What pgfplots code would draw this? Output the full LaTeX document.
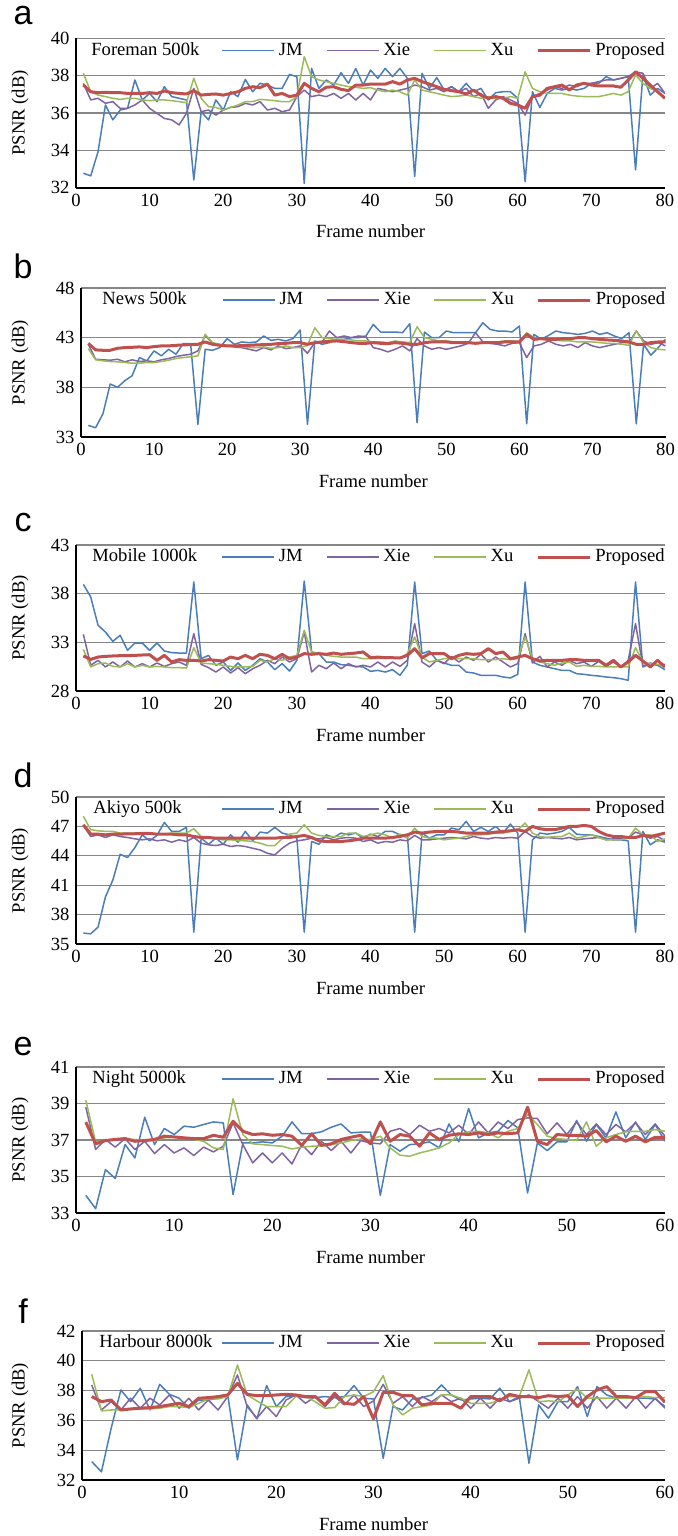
\documentclass[border=0pt]{standalone}
\usepackage{fontspec}
\setmainfont{Liberation Serif}
\setsansfont{Liberation Sans}
\usepackage{pgfplots}
\usepackage{pgfplotstable}
\pgfplotsset{compat=1.18}

\definecolor{jmblue}{HTML}{4A7EBB}
\definecolor{xiepurple}{HTML}{8064A2}
\definecolor{xugreen}{HTML}{9BBB59}
\definecolor{prored}{HTML}{C0504D}
\definecolor{gridgray}{HTML}{868686}

% frame, JM, Xie, Xu, Proposed
\pgfplotstableread{
f jm xie xu pro
1 32.77 37.59 38.13 37.50
2 32.63 36.70 37.14 37.14
3 33.93 36.79 36.96 37.09
4 36.43 36.52 36.88 37.11
5 35.63 36.61 36.79 37.09
6 36.16 36.25 36.73 37.09
7 36.25 36.25 36.79 37.05
8 37.77 36.43 36.79 37.05
9 36.70 36.70 36.70 37.05
10 37.05 36.25 36.66 37.09
11 36.61 35.98 36.70 37.05
12 37.41 35.71 36.70 37.18
13 36.88 35.63 36.66 37.09
14 36.79 35.36 36.61 37.05
15 36.70 35.98 36.55 37.02
16 32.41 37.32 37.86 37.20
17 36.07 36.07 36.79 36.96
18 35.63 36.16 36.34 37.00
19 36.70 35.89 36.30 37.02
20 36.16 36.16 36.16 36.96
21 37.14 36.30 36.30 37.05
22 36.88 36.34 36.43 37.14
23 37.80 36.52 36.61 37.32
24 37.14 36.43 36.61 37.41
25 37.59 36.61 36.73 37.36
26 37.50 36.16 36.70 37.55
27 37.32 36.25 36.66 36.96
28 37.32 36.07 36.61 37.05
29 38.07 36.16 36.61 36.88
30 37.95 36.88 36.88 36.96
31 32.23 37.23 39.02 37.59
32 38.39 36.88 37.95 37.32
33 37.32 36.96 37.77 37.14
34 37.77 36.88 37.68 37.38
35 37.50 37.05 37.59 37.41
36 38.16 36.79 37.50 37.27
37 37.59 37.05 37.41 37.20
38 38.39 36.70 37.38 37.50
39 37.50 37.05 37.32 37.50
40 38.30 36.70 37.36 37.55
41 37.86 37.32 37.23 37.55
42 38.39 37.23 37.14 37.55
43 37.95 37.14 37.23 37.68
44 38.39 37.23 37.14 37.55
45 37.86 37.32 36.96 37.77
46 32.59 37.50 37.77 37.86
47 38.13 37.41 37.23 37.68
48 37.32 37.23 37.14 37.55
49 37.90 37.32 37.05 37.41
50 37.23 37.14 36.96 37.27
51 37.41 37.41 36.88 37.20
52 37.14 37.14 36.91 37.14
53 37.59 37.32 36.96 37.02
54 37.14 36.88 36.88 37.23
55 37.32 37.05 36.79 36.96
56 36.70 36.25 36.88 36.79
57 37.09 36.70 36.79 36.88
58 37.14 36.88 36.79 36.79
59 37.14 36.70 36.88 36.52
60 36.79 36.52 36.79 36.43
61 32.32 35.89 38.21 36.25
62 37.14 36.88 37.32 36.88
63 36.30 37.05 37.14 36.96
64 37.05 37.23 37.05 37.32
65 37.32 37.41 37.05 37.41
66 37.23 37.32 37.05 37.50
67 37.32 37.50 36.96 37.23
68 37.23 37.41 36.91 37.50
69 37.32 37.59 36.88 37.59
70 37.59 37.59 36.88 37.50
71 37.59 37.68 36.88 37.45
72 37.95 37.77 36.96 37.45
73 37.77 37.77 37.05 37.45
74 37.86 37.86 36.96 37.38
75 37.95 37.95 37.14 37.77
76 32.95 38.21 38.04 38.21
77 38.04 38.13 37.59 37.86
78 36.96 37.32 37.32 37.50
79 37.32 37.59 37.14 37.14
80 37.05 37.05 36.79 36.79
}\dataA

\pgfplotstableread{
f jm xie xu pro
1 34.17 42.33 41.90 42.43
2 33.93 40.83 40.77 41.77
3 35.33 40.77 40.67 41.73
4 38.33 40.73 40.60 41.73
5 38.00 40.83 40.57 41.93
6 38.67 40.57 40.50 42.00
7 39.17 40.77 40.43 42.03
8 41.00 40.60 40.43 42.07
9 40.67 40.67 40.50 42.00
10 41.67 40.57 40.50 42.10
11 41.17 40.77 40.60 42.17
12 41.83 40.90 40.73 42.17
13 41.33 41.10 40.90 42.23
14 42.40 41.23 41.00 42.27
15 42.40 41.33 41.07 42.30
16 34.27 41.67 41.17 42.33
17 41.83 43.23 43.33 42.57
18 41.73 42.43 42.50 42.33
19 42.00 42.23 42.33 42.23
20 42.90 42.17 42.23 42.17
21 42.33 42.07 42.17 42.17
22 42.57 42.00 42.10 42.20
23 42.50 41.83 42.00 42.23
24 42.57 41.67 42.00 42.27
25 43.17 42.00 42.07 42.30
26 42.73 41.77 41.93 42.33
27 42.83 42.17 42.00 42.40
28 42.67 41.90 42.17 42.43
29 42.90 42.00 42.00 42.50
30 43.77 42.17 42.00 42.50
31 34.27 41.43 42.23 42.33
32 42.67 42.50 44.00 42.50
33 42.33 42.57 43.00 42.57
34 42.50 43.67 42.90 42.63
35 42.83 43.00 42.83 42.67
36 42.83 43.17 42.83 42.60
37 43.00 43.00 42.77 42.50
38 43.00 43.17 42.67 42.43
39 43.17 43.10 42.67 42.43
40 44.33 42.00 42.57 42.50
41 43.57 41.83 42.57 42.43
42 43.57 41.57 42.50 42.40
43 43.57 41.83 42.67 42.50
44 43.50 42.17 42.57 42.43
45 44.40 41.67 42.50 42.33
46 34.43 42.90 44.10 42.33
47 43.57 42.17 43.00 42.50
48 43.00 41.83 42.83 42.57
49 43.00 42.00 42.67 42.57
50 43.67 41.83 42.67 42.57
51 43.50 42.00 42.57 42.50
52 43.50 42.17 42.50 42.50
53 43.50 42.43 42.50 42.50
54 43.50 43.50 42.50 42.43
55 44.50 42.57 42.43 42.50
56 43.83 42.43 42.50 42.50
57 43.67 42.33 42.57 42.50
58 43.67 42.17 42.67 42.57
59 43.57 42.43 42.67 42.57
60 44.17 42.50 42.57 42.57
61 34.33 41.00 43.50 43.33
62 43.33 42.17 43.00 42.83
63 42.83 42.33 42.83 42.90
64 43.23 42.67 42.77 42.83
65 43.67 42.33 42.77 42.83
66 43.50 42.17 42.67 42.90
67 43.43 42.33 42.67 42.90
68 43.33 42.00 42.57 43.00
69 43.43 42.50 42.57 43.00
70 43.67 42.17 42.57 42.90
71 43.33 42.00 42.50 42.83
72 43.50 42.17 42.43 42.77
73 43.17 42.33 42.43 42.73
74 42.90 42.50 42.33 42.67
75 43.50 42.50 42.23 42.57
76 34.33 43.67 43.67 42.33
77 42.33 42.67 42.50 42.33
78 41.23 42.33 42.00 42.50
79 42.00 42.50 41.83 42.57
80 42.83 42.17 41.77 42.57
}\dataB

\pgfplotstableread{
f jm xie xu pro
1 38.96 33.82 32.28 31.60
2 37.66 30.64 30.47 31.25
3 34.75 31.15 30.81 31.49
4 34.06 30.47 30.88 31.56
5 33.10 30.98 30.53 31.60
6 33.72 30.47 30.47 31.63
7 32.18 31.08 30.81 31.63
8 32.93 30.47 30.47 31.66
9 32.93 30.81 30.64 31.70
10 32.18 30.47 30.47 31.73
11 32.93 30.88 30.53 31.15
12 32.11 30.53 30.47 31.66
13 31.94 30.81 30.40 30.98
14 31.90 30.98 30.40 31.22
15 31.90 30.64 30.36 31.15
16 39.20 33.89 32.45 31.15
17 31.32 30.74 30.88 31.08
18 31.66 30.40 30.81 31.22
19 30.64 29.95 30.74 31.15
20 30.98 30.47 30.64 31.08
21 30.12 29.85 30.53 31.49
22 30.88 30.40 30.47 31.32
23 30.12 29.78 30.47 31.66
24 30.64 30.29 30.53 31.32
25 31.32 30.64 31.15 31.77
26 30.98 31.15 30.98 31.66
27 30.19 30.81 31.32 31.32
28 30.81 31.49 31.15 31.77
29 30.05 30.98 31.49 31.32
30 31.15 31.32 31.66 31.49
31 39.30 34.06 34.23 31.84
32 32.01 29.95 32.01 31.77
33 31.84 30.64 31.84 31.84
34 30.98 30.29 31.66 31.77
35 30.98 30.88 31.56 31.90
36 30.71 30.29 31.49 31.77
37 30.64 30.81 31.49 31.84
38 30.53 30.47 31.49 31.90
39 30.47 30.64 31.32 32.01
40 30.02 30.47 31.32 31.42
41 30.12 30.98 31.32 31.49
42 29.95 30.47 31.39 31.42
43 30.19 30.98 31.42 31.42
44 29.61 30.53 31.39 31.39
45 30.64 31.15 31.84 31.66
46 39.20 34.92 33.55 32.35
47 31.84 30.98 31.49 31.42
48 32.11 30.47 30.98 31.84
49 31.15 31.15 31.15 31.84
50 30.88 30.81 31.32 31.84
51 30.64 31.56 31.39 31.32
52 30.64 30.98 31.32 31.66
53 29.95 31.49 31.32 31.84
54 29.85 31.15 31.32 31.77
55 29.61 31.77 31.22 31.84
56 29.61 30.98 31.22 32.35
57 29.61 31.49 31.22 31.84
58 29.44 30.98 31.32 32.01
59 29.34 30.47 31.22 31.32
60 29.71 30.81 31.32 31.49
61 39.20 33.89 33.55 31.66
62 30.98 30.88 31.32 31.32
63 30.64 31.56 30.98 31.08
64 30.47 30.47 30.81 31.15
65 30.29 30.98 30.64 31.15
66 30.12 30.64 30.88 31.15
67 30.12 31.15 30.98 31.22
68 29.78 30.81 30.53 31.22
69 29.71 30.98 30.64 31.15
70 29.61 30.53 30.53 31.15
71 29.54 31.05 30.53 31.15
72 29.44 30.53 30.47 30.64
73 29.37 30.98 30.47 31.15
74 29.27 30.47 30.47 30.47
75 29.10 31.15 30.47 30.98
76 39.20 34.92 32.45 31.66
77 30.47 30.53 30.98 31.08
78 30.81 30.88 30.81 30.47
79 30.64 30.64 30.74 31.15
80 30.19 30.74 30.53 30.47
}\dataC

\pgfplotstableread{
f jm xie xu pro
1 36.11 47.10 48.03 47.17
2 36.04 45.97 46.66 46.21
3 36.73 46.14 46.55 46.21
4 39.81 45.87 46.49 46.14
5 41.52 46.14 46.49 46.21
6 44.16 45.97 46.32 46.21
7 43.82 45.87 46.32 46.25
8 44.84 45.73 46.32 46.25
9 46.14 45.63 46.32 46.28
10 45.53 45.73 46.32 46.28
11 46.08 45.53 46.21 46.21
12 47.41 45.63 46.21 46.21
13 46.49 45.39 46.32 46.21
14 46.49 45.63 46.32 46.14
15 46.90 45.46 46.32 46.14
16 36.21 45.87 46.76 45.97
17 45.80 45.29 45.97 45.87
18 45.18 45.12 45.80 45.87
19 45.80 45.05 45.73 45.80
20 45.18 45.18 45.63 45.80
21 46.14 44.95 45.63 45.80
22 45.39 45.05 45.56 45.80
23 46.49 44.95 45.53 45.80
24 45.53 44.77 45.46 45.80
25 46.42 44.60 45.29 45.80
26 46.32 44.26 45.05 45.80
27 46.90 44.09 45.05 45.80
28 46.32 44.77 45.73 45.87
29 46.14 45.29 46.21 45.87
30 45.80 45.53 46.32 45.97
31 36.21 45.63 47.17 46.08
32 45.46 45.80 46.32 45.87
33 45.18 45.73 46.08 45.53
34 46.14 45.87 45.97 45.46
35 45.87 45.63 45.97 45.46
36 46.32 45.80 45.97 45.46
37 46.14 45.87 46.32 45.53
38 46.32 45.80 46.32 45.63
39 45.80 45.46 45.97 45.80
40 46.21 45.63 46.14 45.80
41 45.97 45.29 46.32 45.80
42 46.49 45.46 46.14 45.80
43 46.49 45.39 45.80 45.87
44 46.14 45.63 46.21 45.97
45 46.14 45.53 45.80 46.14
46 36.21 46.08 46.83 46.42
47 46.32 45.63 45.97 46.32
48 45.80 45.63 45.80 46.42
49 46.14 45.73 45.80 46.49
50 46.14 45.80 45.63 46.49
51 46.83 45.87 45.73 46.49
52 46.66 45.80 45.80 46.42
53 47.51 45.73 45.97 46.32
54 46.49 45.97 46.14 46.32
55 46.90 45.80 46.14 46.32
56 46.49 45.73 46.21 46.32
57 47.00 45.87 46.32 46.42
58 46.32 45.80 46.32 46.49
59 47.24 45.87 46.49 46.55
60 46.32 45.80 46.66 46.66
61 36.21 46.49 47.34 46.49
62 45.63 45.97 46.32 47.00
63 46.32 45.80 45.97 46.76
64 46.21 45.87 45.87 46.66
65 46.32 45.80 45.97 46.66
66 46.49 45.73 45.97 46.83
67 46.90 45.87 46.32 47.00
68 46.21 45.63 45.80 47.00
69 46.14 45.73 45.97 47.10
70 46.14 45.80 46.14 47.00
71 45.97 45.87 45.87 46.49
72 45.80 45.63 45.63 46.14
73 45.63 45.73 45.63 45.97
74 45.63 45.80 45.63 45.97
75 45.53 45.87 45.80 45.87
76 36.21 46.42 46.83 45.87
77 46.49 46.14 46.14 46.08
78 45.12 45.80 46.14 45.97
79 45.63 45.97 45.46 46.14
80 45.39 45.53 45.73 46.32
}\dataD

\pgfplotstableread{
f jm xie xu pro
1 33.97 38.80 39.18 37.98
2 33.24 36.48 36.90 36.79
3 35.38 37.03 36.97 36.97
4 34.89 36.61 37.03 37.03
5 36.75 37.08 37.06 37.08
6 36.02 36.48 37.03 36.93
7 38.25 36.93 36.97 36.97
8 36.75 36.26 36.97 37.03
9 37.63 36.75 37.12 37.21
10 37.30 36.29 37.15 37.17
11 37.76 36.57 37.12 37.12
12 37.70 36.15 37.03 37.08
13 37.85 36.61 36.93 37.08
14 37.99 36.35 36.57 37.26
15 37.94 36.66 36.48 37.15
16 34.01 37.94 39.26 38.03
17 36.84 36.75 37.30 37.48
18 36.84 35.75 36.79 37.30
19 36.90 36.29 36.75 37.34
20 36.84 35.75 36.70 37.26
21 37.21 36.29 36.66 37.30
22 37.99 35.69 36.51 37.21
23 37.35 36.75 36.61 36.71
24 37.35 36.20 36.66 37.34
25 37.45 36.93 36.66 36.71
26 37.70 36.42 36.75 36.79
27 37.88 36.93 36.84 37.03
28 37.39 36.29 36.97 37.15
29 37.43 36.97 37.06 37.26
30 37.43 36.84 37.03 36.79
31 33.97 36.79 37.21 37.99
32 36.75 37.48 36.57 36.93
33 36.39 37.63 36.17 37.30
34 36.75 37.30 36.11 37.21
35 36.79 37.81 36.29 36.66
36 36.90 37.48 36.42 37.39
37 36.57 37.63 36.57 37.03
38 37.88 37.39 36.84 37.26
39 36.90 37.81 37.30 37.34
40 38.73 37.30 37.45 37.30
41 37.12 37.99 37.48 37.39
42 37.39 37.39 37.39 37.30
43 37.48 37.99 37.12 37.39
44 38.07 37.63 37.48 37.35
45 37.67 38.12 37.63 37.39
46 34.10 38.21 38.40 38.80
47 36.84 38.18 37.85 36.93
48 36.42 37.34 37.21 36.75
49 36.90 37.94 37.08 37.30
50 36.90 37.30 37.03 37.26
51 38.07 37.99 36.97 37.26
52 36.93 37.30 37.99 37.21
53 37.85 37.88 36.66 37.52
54 37.12 37.30 37.12 36.90
55 38.54 37.85 37.30 37.21
56 37.12 37.45 37.45 36.93
57 37.99 37.94 37.48 37.21
58 37.03 37.30 37.48 36.90
59 37.85 37.88 37.57 37.15
60 36.93 37.21 37.48 37.15
}\dataE

\pgfplotstableread{
f jm xie xu pro
1 33.24 38.38 39.10 37.60
2 32.55 36.70 36.64 37.26
3 35.47 37.26 36.70 37.37
4 38.04 36.70 36.70 36.70
5 37.26 37.49 36.75 36.77
6 38.16 36.82 36.77 36.82
7 36.70 37.49 36.77 36.86
8 38.42 37.04 36.82 36.93
9 37.75 37.71 36.93 37.04
10 37.49 36.82 36.93 37.15
11 36.82 37.49 36.86 36.93
12 37.37 36.70 37.15 37.49
13 37.37 37.37 37.44 37.53
14 37.49 36.70 37.44 37.60
15 37.71 37.60 37.60 37.71
16 33.35 39.05 39.72 38.49
17 37.04 36.93 37.71 37.75
18 36.10 36.15 37.31 37.66
19 38.34 36.93 36.93 37.66
20 36.93 36.26 36.93 37.71
21 37.60 37.37 36.93 37.75
22 37.64 37.71 37.60 37.71
23 37.53 37.15 37.60 37.60
24 37.53 37.60 37.26 37.60
25 37.60 36.93 36.82 37.04
26 37.53 37.60 36.86 37.82
27 37.60 37.04 37.60 37.15
28 38.34 37.71 37.71 37.08
29 37.49 36.93 37.60 37.60
30 37.44 37.31 37.93 36.10
31 33.46 38.42 39.01 37.89
32 36.93 37.15 37.04 37.89
33 36.70 37.60 36.37 37.66
34 37.44 36.93 36.82 37.66
35 37.53 37.60 36.93 37.04
36 37.71 37.26 37.04 37.15
37 38.38 37.71 37.71 37.15
38 37.71 37.26 37.71 37.15
39 37.37 37.49 37.49 36.82
40 37.44 36.82 37.15 37.60
41 37.49 37.49 37.15 37.60
42 37.44 36.82 37.15 37.60
43 38.16 37.49 37.37 37.31
44 37.26 37.26 37.60 37.75
45 37.60 37.49 37.60 37.60
46 33.13 37.71 39.39 37.60
47 37.04 37.26 37.26 37.53
48 36.15 36.82 37.31 37.66
49 37.26 37.49 37.26 37.60
50 37.26 36.82 37.71 37.66
51 38.27 37.60 38.11 36.93
52 36.26 36.82 37.49 37.60
53 38.27 37.60 37.49 38.04
54 37.71 36.82 37.49 38.27
55 37.49 37.49 37.49 37.60
56 37.60 36.82 37.49 37.60
57 37.49 37.60 37.53 37.53
58 37.49 36.82 37.60 37.93
59 37.44 37.49 37.53 37.93
60 36.93 36.82 37.53 37.22
}\dataF

\tikzset{
  ttl/.style={anchor=west, inner sep=0pt, yshift=-6pt, text height=0.7em, text depth=0.2em, font=\rmfamily},
  letter/.style={font=\sffamily\fontsize{17}{20}\selectfont, inner sep=0pt},
}

\pgfplotsset{
  psnr/.style={
    scale only axis,
    anchor=south west,
    axis lines*=left,
    axis line style={black, line width=0.9pt},
    ymajorgrids,
    major grid style={draw=gridgray, line width=0.6pt},
    major tick length=0pt,
    enlargelimits=false,
    xmin=0,
    xlabel={Frame number},
    ylabel={PSNR (dB)},
    tick label style={font=\rmfamily},
    label style={font=\rmfamily},
    xlabel style={at={(axis description cs:0.5,0)}, anchor=center, yshift=-22pt},
    /pgf/number format/assume math mode=true,
    legend columns=-1,
    legend style={draw=none, fill=none, at={(1,1)}, anchor=east, xshift=2pt, yshift=-6pt, font=\rmfamily,
      inner sep=0pt, nodes={inner xsep=2pt, inner ysep=0pt, text height=0.7em, text depth=0.2em},
      /tikz/every even column/.append style={column sep=9.5pt}},
    legend image code/.code={\draw[#1] (0pt,0pt) -- (26pt,0pt);},
    every axis plot/.append style={mark=none, line join=round},
  },
  jm/.style={color=jmblue, line width=0.75pt},
  xie/.style={color=xiepurple, line width=0.75pt},
  xu/.style={color=xugreen, line width=0.75pt},
  pro/.style={color=prored, line width=1.5pt},
}

\newcommand\fourplots[1]{%
  \addplot[jm] table[x=f, y=jm] {#1};
  \addplot[xie] table[x=f, y=xie] {#1};
  \addplot[xu] table[x=f, y=xu] {#1};
  \addplot[pro] table[x=f, y=pro] {#1};
  \legend{JM, Xie, Xu, Proposed}
}

\begin{document}
\fontsize{9.3}{11}\selectfont
\begin{tikzpicture}
\useasboundingbox (0pt,0pt) rectangle (339pt,-768pt);

% a
\node[letter] at (11.5pt,-8pt) {a};
\begin{axis}[psnr, at={(38pt,-93.8pt)}, width=294.5pt, height=74.6pt,
  xmax=80, xtick={0,10,...,80}, ymin=32, ymax=40, ytick={32,34,...,40},
  ylabel style={at={(axis description cs:-0.095,0.5)}, anchor=center}]
\fourplots{\dataA}
\node[ttl, xshift=7.5pt] at (rel axis cs:0,1) {Foreman 500k};
\end{axis}

% b
\node[letter] at (11.5pt,-133pt) {b};
\begin{axis}[psnr, at={(40.5pt,-218.5pt)}, width=292.25pt, height=74.5pt,
  xmax=80, xtick={0,10,...,80}, ymin=33, ymax=48, ytick={33,38,...,48},
  ylabel style={at={(axis description cs:-0.104,0.5)}, anchor=center}]
\fourplots{\dataB}
\node[ttl, xshift=10.5pt] at (rel axis cs:0,1) {News 500k};
\end{axis}

% c
\node[letter] at (11.5pt,-261.5pt) {c};
\begin{axis}[psnr, at={(38pt,-345.5pt)}, width=294.5pt, height=73pt,
  xmax=80, xtick={0,10,...,80}, ymin=28, ymax=43, ytick={28,33,...,43},
  ylabel style={at={(axis description cs:-0.095,0.5)}, anchor=center}]
\fourplots{\dataC}
\node[ttl, xshift=8pt] at (rel axis cs:0,1) {Mobile 1000k};
\end{axis}

% d
\node[letter] at (11.5pt,-387.5pt) {d};
\begin{axis}[psnr, at={(38pt,-472pt)}, width=294.5pt, height=73.5pt,
  xmax=80, xtick={0,10,...,80}, ymin=35, ymax=50, ytick={35,38,...,50},
  ylabel style={at={(axis description cs:-0.095,0.5)}, anchor=center}]
\fourplots{\dataD}
\node[ttl, xshift=8.5pt] at (rel axis cs:0,1) {Akiyo 500k};
\end{axis}

% e
\node[letter] at (11.5pt,-523.5pt) {e};
\begin{axis}[psnr, at={(38pt,-606.5pt)}, width=294.5pt, height=73pt,
  xmax=60, xtick={0,10,...,60}, ymin=33, ymax=41, ytick={33,35,...,41},
  ylabel style={at={(axis description cs:-0.095,0.5)}, anchor=center}]
\fourplots{\dataE}
\node[ttl, xshift=8pt] at (rel axis cs:0,1) {Night 5000k};
\end{axis}

% f
\node[letter] at (11.5pt,-655.5pt) {f};
\begin{axis}[psnr, at={(41pt,-740pt)}, width=291.5pt, height=74.5pt,
  xmax=60, xtick={0,10,...,60}, ymin=32, ymax=42, ytick={32,34,...,42},
  ylabel style={at={(axis description cs:-0.106,0.5)}, anchor=center}]
\fourplots{\dataF}
\node[ttl, xshift=8.5pt] at (rel axis cs:0,1) {Harbour 8000k};
\end{axis}

\end{tikzpicture}
\end{document}
